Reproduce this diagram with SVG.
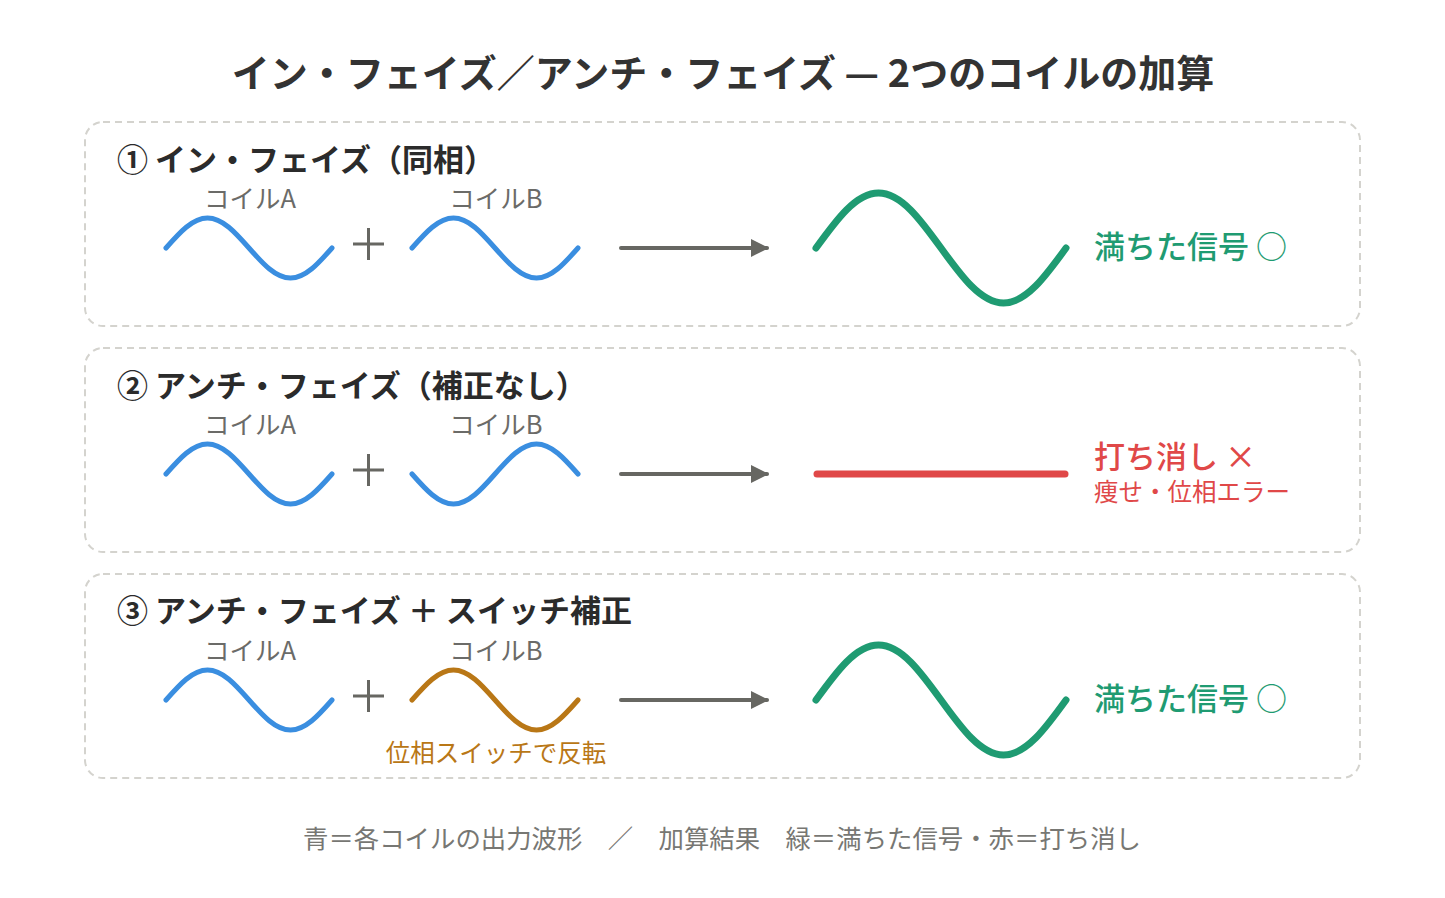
<svg xmlns="http://www.w3.org/2000/svg" xmlns:xlink="http://www.w3.org/1999/xlink" width="1445" height="898" viewBox="0 0 1445 898">
<style>
text{font-family:"Noto Sans CJK JP","Noto Sans",sans-serif}
.title{font-size:38px;font-weight:700;fill:#333333}
.head{font-size:31px;font-weight:700;fill:#2b2b2b}
.coil{font-size:25.5px;fill:#6b6b68;text-anchor:middle}
.panel{fill:none;stroke:#d4d3ce;stroke-width:2;stroke-dasharray:7 5}
.w{fill:none;stroke-width:5;stroke-linecap:round;stroke-linejoin:round}
.blue{stroke:#3a8ee0}
.orange{stroke:#b97716}
.green{fill:none;stroke:#1f9b72;stroke-width:7;stroke-linecap:round}
.plus{stroke:#676762;stroke-width:3}
.arrow{stroke:#676762;stroke-width:4;stroke-linecap:round}
.ok{font-size:31px;font-weight:500;fill:#1f9b72}
.ng{font-size:31px;font-weight:500;fill:#e04848}
.ngs{font-size:24.5px;fill:#e04848}
.sw{font-size:24.5px;fill:#b97716;text-anchor:middle}
.foot{font-size:25.4px;fill:#777773;text-anchor:middle}
</style>
<defs>
<path id="cw" d="M0,0 C13.53,-15.37 26.48,-30 41.5,-30 C56.52,-30 69.47,-15.37 83,0 C96.53,15.37 109.48,30 124.5,30 C139.52,30 152.47,15.37 166,0"/>
<path id="rw" d="M0,0 C20.38,-28.18 39.88,-55 62.5,-55 C85.12,-55 104.62,-28.18 125,0 C145.38,28.18 164.88,55 187.5,55 C210.12,55 229.62,28.18 250,0"/>
<marker id="ah" viewBox="0 0 10 10" refX="9" refY="5" markerWidth="4.5" markerHeight="4.5" orient="auto" markerUnits="strokeWidth">
<path d="M0,0 L10,5 L0,10 Z" fill="#676762"/>
</marker>
</defs>
<rect width="1445" height="898" fill="#ffffff"/>
<g id="title">
<text class="title" x="723" y="87" text-anchor="middle">イン・フェイズ／アンチ・フェイズ — 2つのコイルの加算</text>
</g>
<g id="panel1">
<rect class="panel" x="85" y="122" width="1275" height="204" rx="18"/>
<text class="head" x="117" y="171">① イン・フェイズ（同相）</text>
<text class="coil" x="250" y="208">コイルA</text>
<text class="coil" x="496" y="208">コイルB</text>
<use href="#cw" xlink:href="#cw" class="w blue" transform="translate(166,248)"/>
<use href="#cw" xlink:href="#cw" class="w blue" transform="translate(412,248)"/>
<path class="plus" d="M353,244 H384 M368.5,228 V260"/>
<use href="#rw" xlink:href="#rw" class="green" transform="translate(816,248)"/>
<text class="ok" x="1094" y="258">満ちた信号 ○</text>
</g>
<g id="panel2">
<rect class="panel" x="85" y="348" width="1275" height="204" rx="18"/>
<text class="head" x="117" y="397">② アンチ・フェイズ（補正なし）</text>
<text class="coil" x="250" y="434">コイルA</text>
<text class="coil" x="496" y="434">コイルB</text>
<use href="#cw" xlink:href="#cw" class="w blue" transform="translate(166,474)"/>
<use href="#cw" xlink:href="#cw" class="w blue" transform="translate(412,474) scale(1,-1)"/>
<path class="plus" d="M353,470 H384 M368.5,454 V486"/>
<line x1="817" y1="474" x2="1065" y2="474" stroke="#e04848" stroke-width="7" stroke-linecap="round"/>
<text class="ng" x="1094" y="468">打ち消し ×</text>
<text class="ngs" x="1094" y="501">痩せ・位相エラー</text>
</g>
<g id="panel3">
<rect class="panel" x="85" y="574" width="1275" height="204" rx="18"/>
<text class="head" x="117" y="622">③ アンチ・フェイズ ＋ スイッチ補正</text>
<text class="coil" x="250" y="660">コイルA</text>
<text class="coil" x="496" y="660">コイルB</text>
<use href="#cw" xlink:href="#cw" class="w blue" transform="translate(166,700)"/>
<use href="#cw" xlink:href="#cw" class="w orange" transform="translate(412,700)"/>
<path class="plus" d="M353,696 H384 M368.5,680 V712"/>
<text class="sw" x="496" y="762">位相スイッチで反転</text>
<use href="#rw" xlink:href="#rw" class="green" transform="translate(816,700)"/>
<text class="ok" x="1094" y="710">満ちた信号 ○</text>
</g>
<g id="connectors">
<line class="arrow" x1="621" y1="248" x2="767" y2="248" marker-end="url(#ah)"/>
<line class="arrow" x1="621" y1="474" x2="767" y2="474" marker-end="url(#ah)"/>
<line class="arrow" x1="621" y1="700" x2="767" y2="700" marker-end="url(#ah)"/>
</g>
<g id="legend">
<text class="foot" x="722" y="848">青＝各コイルの出力波形　／　加算結果　緑＝満ちた信号・赤＝打ち消し</text>
</g>
</svg>
